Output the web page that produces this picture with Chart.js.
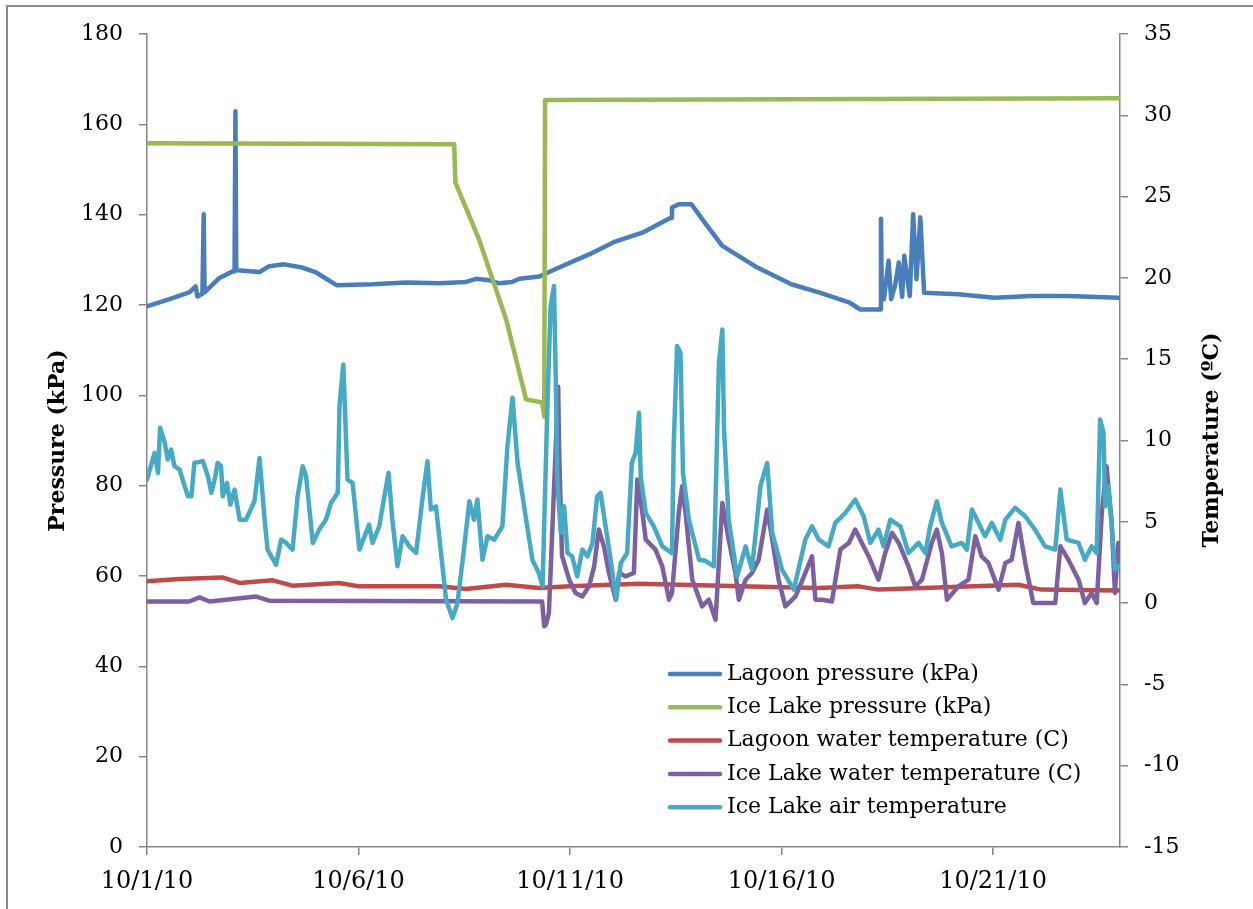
<!DOCTYPE html>
<html>
<head>
<meta charset="utf-8">
<script src="https://cdn.jsdelivr.net/npm/chart.js@4.4.1/dist/chart.umd.min.js"></script>
<style>
  html, body { margin: 0; padding: 0; background: #fff; }
  #wrap { position: relative; width: 1253px; height: 909px; overflow: hidden; }
  #frame { position: absolute; left: 6px; top: 5px; width: 1260px; height: 920px;
           border-left: 2px solid #8c8c8c; border-top: 2px solid #8c8c8c; pointer-events: none; }
</style>
</head>
<body>
<div id="wrap">
  <canvas id="lakeChart" width="1253" height="909"></canvas>
  <div id="frame"></div>
</div>
<script>
// x values are days since 10/1/10
var xTickDays = [0, 5, 10, 15, 20];
var xTickLabels = ['10/1/10', '10/6/10', '10/11/10', '10/16/10', '10/21/10'];

var seriesNames = ['Lagoon pressure (kPa)', 'Ice Lake pressure (kPa)', 'Lagoon water temperature (C)',
                   'Ice Lake water temperature (C)', 'Ice Lake air temperature'];

// Lagoon pressure (kPa)
var lagoonPressDays = [0, 0.53, 1.0, 1.15, 1.19, 1.31, 1.34, 1.36, 1.70, 2.04, 2.07, 2.09, 2.11, 2.14, 2.66,
  2.89, 3.24, 3.67, 4.00, 4.48, 5.33, 6.13, 6.91, 7.54, 7.78, 8.09, 8.32, 8.63, 8.80, 9.27, 9.74, 10.45,
  11.03, 11.71, 12.31, 12.39, 12.41, 12.57, 12.87, 13.18, 13.60, 14.37, 15.23, 15.92, 16.61, 16.86, 17.33,
  17.35, 17.37, 17.42, 17.53, 17.59, 17.68, 17.77, 17.85, 17.90, 18.03, 18.11, 18.19, 18.28, 18.37, 19.18,
  20.03, 20.90, 21.76, 22.96];
var lagoonPress = [119.7, 121.3, 122.8, 124.1, 121.9, 122.5, 140.1, 122.8, 125.9, 127.5, 127.5, 162.9, 127.8,
  127.7, 127.3, 128.6, 129.0, 128.3, 127.2, 124.4, 124.6, 125.0, 124.8, 125.1, 125.8, 125.5, 124.8, 125.1,
  125.8, 126.3, 128.3, 131.2, 133.9, 136.0, 139.0, 139.3, 141.6, 142.3, 142.3, 138.3, 133.1, 128.6, 124.6,
  122.7, 120.5, 119.0, 119.0, 139.1, 121.3, 121.3, 129.8, 121.3, 124.2, 129.4, 121.8, 130.9, 122.0, 140.1,
  125.7, 139.4, 122.7, 122.4, 121.6, 122.0, 122.0, 121.6];

// Ice Lake pressure (kPa)
var icePressDays = [0, 7.26, 7.29, 7.85, 8.49, 8.96, 9.34, 9.39, 9.41, 22.96];
var icePress = [155.8, 155.6, 147.1, 134.5, 116.8, 99.1, 98.4, 95.3, 165.4, 165.8];

// Lagoon water temperature (C)
var lagoonTempDays = [0, 0.77, 1.78, 2.19, 2.97, 3.44, 4.54, 5.02, 6.91, 7.54, 8.49, 9.27, 9.98, 11.63,
  14.77, 15.88, 16.82, 17.29, 20.60, 21.14, 22.96];
var lagoonTemp = [1.34, 1.48, 1.58, 1.24, 1.40, 1.07, 1.24, 1.03, 1.03, 0.87, 1.13, 0.93, 1.03, 1.19,
  0.99, 0.93, 1.03, 0.83, 1.13, 0.83, 0.78];

// Ice Lake water temperature (C)
var iceWaterDays = [0, 1.0, 1.24, 1.48, 2.58, 2.89, 9.34, 9.39, 9.43, 9.50,
  9.72, 9.74, 9.81, 9.98, 10.13, 10.29, 10.45, 10.57, 10.68, 10.80,
  10.92, 11.08, 11.16, 11.31, 11.51, 11.59, 11.71, 11.79, 12.02, 12.18,
  12.34, 12.41, 12.57, 12.65, 12.73, 12.89, 13.12, 13.28, 13.44, 13.60,
  13.75, 13.91, 13.99, 14.15, 14.30, 14.46, 14.66, 14.78, 14.93, 15.09,
  15.33, 15.56, 15.72, 15.80, 15.96, 16.19, 16.39, 16.59, 16.74, 16.86,
  17.06, 17.29, 17.45, 17.61, 17.77, 18.00, 18.16, 18.32, 18.55, 18.67,
  18.79, 18.91, 19.18, 19.42, 19.58, 19.73, 19.89, 20.13, 20.29, 20.44,
  20.60, 20.76, 20.95, 21.47, 21.59, 21.78, 22.02, 22.17, 22.33, 22.45,
  22.57, 22.68, 22.80, 22.88, 22.96];
var iceWater = [0.1, 0.1, 0.35, 0.1, 0.4, 0.15, 0.1, -1.43, -1.33, -0.6,
  13.3, 9.6, 2.9, 1.44, 0.62, 0.41, 1.03, 2.26, 4.52, 3.49,
  1.85, 0.21, 1.87, 1.64, 1.85, 7.6, 5.55, 3.9, 3.29, 2.26,
  0.21, 0.62, 5.55, 7.19, 5.55, 1.44, -0.2, 0.21, -1.02, 6.16,
  3.9, 1.85, 0.21, 1.44, 1.85, 2.67, 5.75, 3.9, 1.44, -0.2,
  0.41, 1.85, 2.87, 0.21, 0.21, 0.1, 3.29, 3.7, 4.52, 3.9,
  2.87, 1.44, 3.08, 4.32, 3.7, 2.26, 1.03, 1.44, 3.7, 4.52,
  3.08, 0.21, 1.03, 1.44, 4.11, 2.87, 2.47, 0.83, 2.47, 2.67,
  4.93, 2.47, 0, 0, 3.49, 2.67, 1.44, 0, 0.62, 0,
  5.55, 8.42, 5.13, 0.62, 3.7];

// Ice Lake air temperature (C)
var iceAirDays = [0, 0.18, 0.26, 0.31, 0.42, 0.49, 0.57, 0.65, 0.77, 0.89,
  0.97, 1.05, 1.12, 1.32, 1.44, 1.52, 1.60, 1.67, 1.75, 1.79,
  1.89, 1.97, 2.07, 2.19, 2.34, 2.54, 2.66, 2.78, 2.85, 3.05,
  3.17, 3.29, 3.44, 3.56, 3.68, 3.76, 3.92, 4.07, 4.23, 4.35,
  4.51, 4.55, 4.64, 4.74, 4.86, 5.02, 5.25, 5.33, 5.49, 5.61,
  5.71, 5.80, 5.92, 6.04, 6.20, 6.36, 6.51, 6.63, 6.71, 6.83,
  6.95, 7.07, 7.22, 7.34, 7.50, 7.62, 7.73, 7.81, 7.93, 8.05,
  8.21, 8.40, 8.52, 8.64, 8.76, 8.95, 9.11, 9.27, 9.35, 9.46,
  9.54, 9.62, 9.66, 9.70, 9.78, 9.86, 9.94, 10.05, 10.17, 10.29,
  10.41, 10.53, 10.64, 10.72, 10.84, 10.96, 11.09, 11.20, 11.35, 11.46,
  11.55, 11.63, 11.67, 11.79, 11.98, 12.18, 12.41, 12.45, 12.53, 12.61,
  12.67, 12.81, 13.05, 13.20, 13.40, 13.52, 13.60, 13.64, 13.75, 13.95,
  14.15, 14.30, 14.50, 14.66, 14.78, 15.01, 15.29, 15.56, 15.72, 15.88,
  16.11, 16.27, 16.51, 16.74, 16.94, 17.10, 17.29, 17.41, 17.57, 17.81,
  18.00, 18.24, 18.40, 18.51, 18.67, 18.79, 19.02, 19.26, 19.38, 19.50,
  19.62, 19.81, 19.97, 20.17, 20.29, 20.52, 20.76, 20.99, 21.23, 21.47,
  21.59, 21.74, 22.02, 22.17, 22.33, 22.45, 22.53, 22.61, 22.65, 22.72,
  22.80, 22.88, 22.96];
var iceAir = [7.6, 9.24, 8.01, 10.78, 9.86, 8.83, 9.45, 8.42, 8.21, 7.19,
  6.57, 6.57, 8.62, 8.73, 7.8, 6.78, 7.6, 8.62, 8.42, 6.57,
  7.4, 6.06, 6.98, 5.13, 5.13, 6.26, 8.93, 5.13, 3.29, 2.36,
  3.9, 3.7, 3.29, 6.57, 8.42, 7.8, 3.7, 4.52, 5.13, 6.16,
  6.78, 12.11, 14.68, 7.6, 7.4, 3.29, 4.83, 3.7, 4.72, 6.57,
  8.01, 5.13, 2.26, 4.11, 3.49, 3.08, 6.37, 8.73, 5.75, 5.95,
  3.08, 0.21, -0.92, 0, 3.49, 6.26, 5.13, 6.37, 2.67, 4.11,
  3.9, 4.72, 9.65, 12.63, 8.62, 5.34, 2.67, 1.8, 1.03, 11.7,
  18.27, 19.5, 14.17, 7.6, 4.32, 5.95, 3.08, 2.87, 1.64, 3.29,
  2.87, 3.7, 6.57, 6.78, 4.72, 2.67, 0.21, 2.47, 3.08, 8.62,
  9.24, 11.7, 7.8, 5.55, 4.72, 3.49, 3.08, 9.65, 15.81, 15.4,
  8.01, 5.13, 2.67, 2.6, 2.26, 14.78, 16.83, 10.68, 5.13, 1.64,
  3.49, 2.06, 7.19, 8.62, 4.32, 2.06, 0.83, 3.9, 4.72, 3.9,
  3.49, 4.93, 5.55, 6.37, 5.34, 3.7, 4.52, 3.49, 5.13, 4.72,
  3.08, 3.7, 3.08, 4.72, 6.26, 4.93, 3.49, 3.7, 3.29, 5.75,
  5.13, 4.11, 4.93, 3.9, 5.13, 5.86, 5.34, 4.52, 3.49, 3.29,
  6.98, 3.9, 3.7, 2.67, 3.49, 3.08, 11.29, 10.47, 5.95, 7.19,
  4.93, 2.06, 2.26];

var colors = ['#4a7ebb', '#98b954', '#be4b48', '#7d60a0', '#46aac5'];

// 두 배열을 {x, y} 점 목록으로 묶음
function toPoints(days, vals) {
  return days.map(function (d, i) { return { x: d, y: vals[i] }; });
}

function makeSet(i, days, vals, axis) {
  return {
    label: seriesNames[i],
    data: toPoints(days, vals),
    yAxisID: axis,
    borderColor: colors[i],
    backgroundColor: colors[i],
    borderWidth: 4.5,
    pointRadius: 0,
    tension: 0,
    fill: false,
    borderJoinStyle: 'round',
    borderCapStyle: 'round',
    order: 5 - i   // later series drawn on top, like Excel
  };
}

var datasets = [
  makeSet(0, lagoonPressDays, lagoonPress, 'y'),
  makeSet(1, icePressDays, icePress, 'y'),
  makeSet(2, lagoonTempDays, lagoonTemp, 'y1'),
  makeSet(3, iceWaterDays, iceWater, 'y1'),
  makeSet(4, iceAirDays, iceAir, 'y1')
];

// legend inside the plot + right axis title reading upward
var insideLegend = {
  id: 'insideLegend',
  afterDraw: function (chart) {
    var ctx = chart.ctx;
    ctx.save();
    ctx.font = '22px "DejaVu Serif"';
    ctx.textBaseline = 'middle';
    chart.data.datasets.forEach(function (ds, i) {
      var y = 674 + i * 33.3;
      ctx.strokeStyle = ds.borderColor;
      ctx.lineWidth = 4.5;
      ctx.lineCap = 'round';
      ctx.beginPath();
      ctx.moveTo(670, y);
      ctx.lineTo(720, y);
      ctx.stroke();
      ctx.fillStyle = '#000';
      ctx.fillText(ds.label, 727, y);
    });
    ctx.translate(1212, 440);
    ctx.rotate(-Math.PI / 2);
    ctx.textAlign = 'center';
    ctx.font = 'bold 22px "DejaVu Serif"';
    ctx.fillText('Temperature (ºC)', 0, 0);
    ctx.restore();
  }
};

Chart.defaults.font.family = '"DejaVu Serif", serif';
Chart.defaults.color = '#000';

var axisGrid = { drawOnChartArea: false, color: '#868686', lineWidth: 1.5, tickLength: 8 };
var axisBorder = { color: '#868686', width: 1.5 };

var ctx = document.getElementById('lakeChart');
var lakeChart = new Chart(ctx, {
  type: 'line',
  data: { datasets: datasets },
  options: {
    responsive: false,
    animation: false,
    devicePixelRatio: 1,
    layout: { padding: { top: 34, left: 0, right: 0, bottom: 0 } },
    plugins: { legend: { display: false }, tooltip: { enabled: false } },
    scales: {
      x: {
        type: 'linear',
        min: 0,
        max: 23,
        grid: axisGrid,
        border: axisBorder,
        afterBuildTicks: function (s) { s.ticks = xTickDays.map(function (v) { return { value: v }; }); },
        afterFit: function (s) { s.height = 62; },
        ticks: {
          font: { size: 24 },
          padding: 12,
          maxRotation: 0,
          callback: function (v) { return xTickLabels[xTickDays.indexOf(v)]; }
        }
      },
      y: {
        position: 'left',
        min: 0,
        max: 180,
        grid: axisGrid,
        border: axisBorder,
        afterFit: function (s) { s.width = 147; },
        ticks: { stepSize: 20, font: { size: 22 }, padding: 16 },
        title: { display: true, text: 'Pressure (kPa)', font: { size: 22, weight: 'bold' }, padding: { top: 45, bottom: 0 } }
      },
      y1: {
        position: 'right',
        min: -15,
        max: 35,
        grid: axisGrid,
        border: axisBorder,
        afterFit: function (s) { s.width = 133; },
        ticks: { stepSize: 5, font: { size: 22 }, padding: 16 }
      }
    }
  },
  plugins: [insideLegend]
});
</script>
</body>
</html>
